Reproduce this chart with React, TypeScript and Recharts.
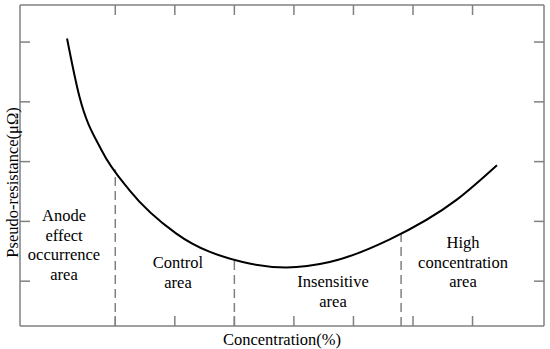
import { LineChart, Line, XAxis, YAxis, ReferenceLine } from 'recharts';

// concentration (arbitrary units) vs pseudo-resistance
const conc = [-0.81, -0.6, -0.23, 0.24, 1.02, 2.14, 2.87, 3.6, 4.61, 5.73, 6.41];
const resist = [5.06, 4.08, 3.19, 2.52, 1.8, 1.32, 1.23, 1.32, 1.7, 2.36, 2.94];

const xTicks = [0, 1, 2, 3, 4, 5, 6];
const yTicks = [1, 2, 3, 4, 5];

// area boundaries (x) and curve height there
const bounds = [0, 2, 4.8];
const boundTops = [2.87, 1.36, 1.8];

const data = conc.map((c, i) => ({ c, r: resist[i] }));

const axisColor = '#808080';
const font = '"Liberation Serif", "Times New Roman", serif';

const noLabel = () => '';

const areaLabels = [
  { lines: ['Anode', 'effect', 'occurrence', 'area'], x: 64, y: 206 },
  { lines: ['Control', 'area'], x: 178, y: 253 },
  { lines: ['Insensitive', 'area'], x: 333, y: 272 },
  { lines: ['High', 'concentration', 'area'], x: 463, y: 233 },
];

export default function App() {
  return (
    <div style={{ position: 'absolute', left: 0, top: 0, width: 550, height: 349, background: '#fff', fontFamily: font }}>
      <LineChart width={550} height={349} data={data} margin={{ top: 5, right: 6, left: 20, bottom: 23 }}>
        <XAxis xAxisId="b" dataKey="c" type="number" domain={[-1.6, 7.2]} ticks={xTicks} orientation="bottom"
          mirror tickSize={10} tickFormatter={noLabel} stroke={axisColor} strokeWidth={1.5} allowDataOverflow />
        <XAxis xAxisId="t" dataKey="c" type="number" domain={[-1.6, 7.2]} ticks={xTicks} orientation="top"
          mirror tickSize={10} tickFormatter={noLabel} stroke={axisColor} strokeWidth={1.5} allowDataOverflow />
        <YAxis yAxisId="l" type="number" domain={[0.25, 5.62]} ticks={yTicks} orientation="left"
          mirror tickSize={10} tickFormatter={noLabel} stroke={axisColor} strokeWidth={1.5} allowDataOverflow />
        <YAxis yAxisId="r" type="number" domain={[0.25, 5.62]} ticks={yTicks} orientation="right"
          mirror tickSize={10} tickFormatter={noLabel} stroke={axisColor} strokeWidth={1.5} allowDataOverflow />
        {bounds.map((b, i) => (
          <ReferenceLine key={b} xAxisId="b" yAxisId="l"
            segment={[{ x: b, y: 0.25 }, { x: b, y: boundTops[i] }]}
            stroke={axisColor} strokeWidth={1.5} strokeDasharray="9 5" />
        ))}
        <Line xAxisId="b" yAxisId="l" type="monotone" dataKey="r" stroke="#000" strokeWidth={2}
          dot={false} isAnimationActive={false} />
      </LineChart>
      {areaLabels.map((a) => (
        <div key={a.lines[0]} style={{ position: 'absolute', left: a.x - 60, top: a.y, width: 120, textAlign: 'center', fontSize: 16.5, lineHeight: '19.5px', color: '#000' }}>
          {a.lines.map((l) => <div key={l}>{l}</div>)}
        </div>
      ))}
      <div style={{ position: 'absolute', left: 182, top: 330, width: 200, textAlign: 'center', fontSize: 16.5, lineHeight: '19px' }}>
        Concentration(%)
      </div>
      <div style={{ position: 'absolute', left: 12, top: 183, width: 0, height: 0 }}>
        <div style={{ position: 'absolute', left: -100, top: -10, width: 200, textAlign: 'center', fontSize: 16.5, lineHeight: '19px', transform: 'rotate(-90deg)', whiteSpace: 'nowrap' }}>
          Pseudo-resistance(μΩ)
        </div>
      </div>
    </div>
  );
}
